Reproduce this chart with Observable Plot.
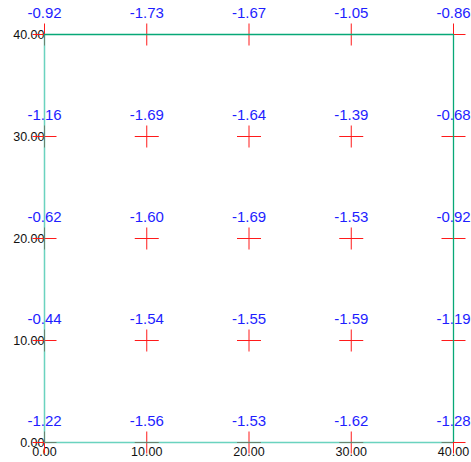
<!DOCTYPE html>
<html>
<head>
<meta charset="utf-8">
<script src="https://cdn.jsdelivr.net/npm/d3@7"></script>
<script src="https://cdn.jsdelivr.net/npm/@observablehq/plot@0.6"></script>
<style>
  html, body { margin: 0; padding: 0; background: #fff; }
</style>
</head>
<body>
<div id="chart"></div>
<script>
const xs = [0, 10, 20, 30, 40];
const ys = [40, 30, 20, 10, 0];
// values by row (y = 40 down to y = 0), columns x = 0..40
const row40 = [-0.92, -1.73, -1.67, -1.05, -0.86];
const row30 = [-1.16, -1.69, -1.64, -1.39, -0.68];
const row20 = [-0.62, -1.60, -1.69, -1.53, -0.92];
const row10 = [-0.44, -1.54, -1.55, -1.59, -1.19];
const row0  = [-1.22, -1.56, -1.53, -1.62, -1.28];
const tickValues = [0, 10, 20, 30, 40];

const rows = [row40, row30, row20, row10, row0];
const data = [];
rows.forEach((r, i) => r.forEach((v, j) => data.push({x: xs[j], y: ys[i], v})));

const cross = {
  draw(ctx) {
    ctx.moveTo(-12, 0); ctx.lineTo(12, 0);
    ctx.moveTo(0, -11); ctx.lineTo(0, 11);
  }
};

const font = "Liberation Sans, Arial, sans-serif";
const plot = Plot.plot({
  width: 471,
  height: 462,
  marginLeft: 44,
  marginRight: 18,
  marginTop: 34,
  marginBottom: 20,
  style: {fontFamily: font, fontSize: "12.5px", color: "#000", background: "#fff"},
  x: {domain: [0, 40]},
  y: {domain: [0, 40]},
  marks: [
    Plot.axisX(tickValues, {tickSize: 0, tickPadding: 5, tickFormat: d3.format(".2f"), label: null, fontSize: 12.5, fill: "#111"}),
    Plot.axisY(tickValues, {tickSize: 0, tickPadding: 0, tickFormat: d3.format(".2f"), label: null, fontSize: 12.5, fill: "#111"}),
    Plot.dot(data, {x: "x", y: "y", symbol: cross, stroke: "#ff1a1a", strokeWidth: 1, fill: "none", r: 12}),
    Plot.text(data, {x: "x", y: "y", text: d => d.v.toFixed(2), dy: -21, fill: "#1e1eff", fontSize: 15, lineAnchor: "middle"}),
    Plot.ruleX([0], {y1: 0, y2: 40, stroke: "#1abc9c", strokeOpacity: 0.65, strokeWidth: 1.5}),
    Plot.ruleY([0], {x1: 0, x2: 40, stroke: "#1abc9c", strokeOpacity: 0.65, strokeWidth: 1.5}),
    Plot.ruleX([40], {y1: 0, y2: 40, stroke: "#07a877", strokeWidth: 1.3}),
    Plot.ruleY([40], {x1: 0, x2: 40, stroke: "#07a877", strokeWidth: 1.3})
  ]
});
document.getElementById("chart").appendChild(plot);
</script>
</body>
</html>
